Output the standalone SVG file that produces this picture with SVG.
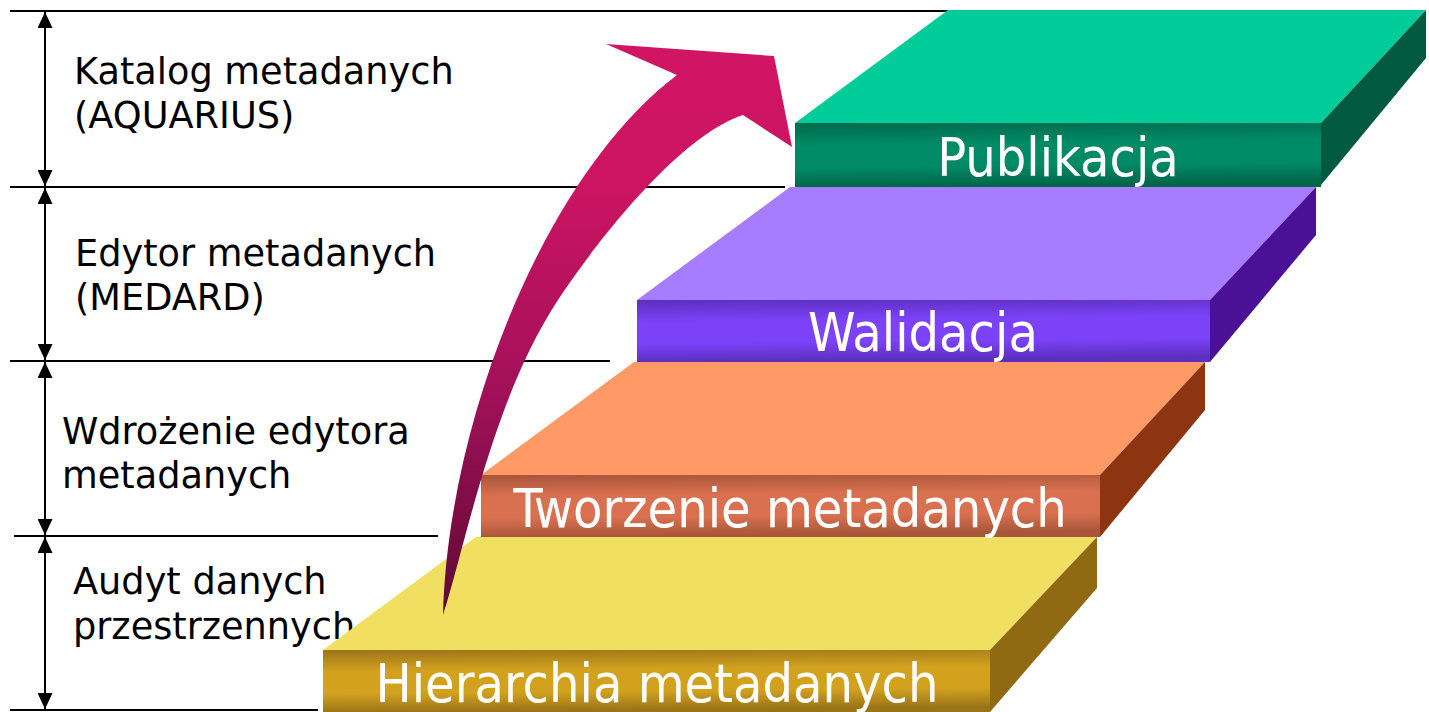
<svg xmlns="http://www.w3.org/2000/svg" width="1429" height="712" viewBox="0 0 1429 712">
<style>
.lbl{font-family:"DejaVu Sans","Liberation Sans",sans-serif;font-size:36.7px;fill:#000}
.slab{font-family:"DejaVu Sans Condensed","DejaVu Sans","Liberation Sans",sans-serif;font-size:53.5px;fill:#fff;text-anchor:middle}
.hl{stroke:#000;stroke-width:2;fill:none}
.dim{stroke:#000;stroke-width:2;fill:none;marker-start:url(#ah);marker-end:url(#ah)}
</style>
<defs>
<marker id="ah" viewBox="0 0 16 15" refX="16" refY="7.5" markerWidth="16" markerHeight="15" markerUnits="userSpaceOnUse" orient="auto-start-reverse"><path d="M0,0 L16,7.5 L0,15 z" fill="#000"/></marker>
<linearGradient id="gG" x1="0" y1="0" x2="0.1" y2="1"><stop offset="0" stop-color="#006a4c"/><stop offset="0.35" stop-color="#008a66"/><stop offset="0.7" stop-color="#008a66"/><stop offset="1" stop-color="#00664a"/></linearGradient>
<linearGradient id="gP" x1="0" y1="0" x2="0.1" y2="1"><stop offset="0" stop-color="#5c2fbf"/><stop offset="0.35" stop-color="#7b42f8"/><stop offset="0.7" stop-color="#7b42f8"/><stop offset="1" stop-color="#5c2fbf"/></linearGradient>
<linearGradient id="gO" x1="0" y1="0" x2="0.1" y2="1"><stop offset="0" stop-color="#a8553a"/><stop offset="0.35" stop-color="#d97050"/><stop offset="0.7" stop-color="#d97050"/><stop offset="1" stop-color="#a8553a"/></linearGradient>
<linearGradient id="gY" x1="0" y1="0" x2="0.1" y2="1"><stop offset="0" stop-color="#9c7418"/><stop offset="0.35" stop-color="#d2a21e"/><stop offset="0.7" stop-color="#d2a21e"/><stop offset="1" stop-color="#9c7418"/></linearGradient>
<linearGradient id="gA" gradientUnits="userSpaceOnUse" x1="0" y1="615" x2="0" y2="44"><stop offset="0" stop-color="#5e0a33"/><stop offset="0.4" stop-color="#a3105a"/><stop offset="0.75" stop-color="#cc1462"/><stop offset="1" stop-color="#d01563"/></linearGradient>
</defs>

<g id="guides">
<line class="hl" x1="10" y1="11" x2="960" y2="11"/>
<line class="hl" x1="10" y1="187" x2="785" y2="187"/>
<line class="hl" x1="10" y1="361" x2="610" y2="361"/>
<line class="hl" x1="14" y1="536" x2="438" y2="536"/>
<line class="hl" x1="10" y1="710" x2="318" y2="710"/>
<line class="dim" x1="45" y1="12" x2="45" y2="186"/>
<line class="dim" x1="45" y1="188" x2="45" y2="360"/>
<line class="dim" x1="45" y1="362" x2="45" y2="535"/>
<line class="dim" x1="45" y1="537" x2="45" y2="709"/>
</g>

<g id="label-katalog"><text class="lbl" x="74" y="84">Katalog metadanych</text><text class="lbl" x="74" y="128">(AQUARIUS)</text></g>
<g id="label-edytor"><text class="lbl" x="75" y="266">Edytor metadanych</text><text class="lbl" x="75" y="310">(MEDARD)</text></g>
<g id="label-wdrozenie"><text class="lbl" x="62" y="444">Wdrożenie edytora</text><text class="lbl" x="62" y="488">metadanych</text></g>
<g id="label-audyt"><text class="lbl" x="73" y="594">Audyt danych</text><text class="lbl" x="73" y="639">przestrzennych</text></g>

<g id="step-hierarchia">
<polygon points="323,650 990,650 1097,537 476,537" fill="#f0df60"/>
<polygon points="990,650 1097,537 1097,588 990,712" fill="#8f6a12"/>
<rect x="323" y="650" width="667" height="62" fill="url(#gY)"/>
<text class="slab" x="657" y="702">Hierarchia metadanych</text>
</g>
<g id="step-tworzenie">
<polygon points="481,475 1100,475 1205,362 634,362" fill="#ff9966"/>
<polygon points="1100,475 1205,362 1205,410 1100,537" fill="#8c3510"/>
<rect x="481" y="475" width="619" height="62" fill="url(#gO)"/>
<text class="slab" x="790" y="527">Tworzenie metadanych</text>
</g>
<g id="step-walidacja">
<polygon points="637,300 1210,300 1316,187 790,187" fill="#a67dff"/>
<polygon points="1210,300 1316,187 1316,235 1210,362" fill="#4a1096"/>
<rect x="637" y="300" width="573" height="62" fill="url(#gP)"/>
<text class="slab" x="923" y="351">Walidacja</text>
</g>
<g id="step-publikacja">
<polygon points="795,123 1321,123 1426,10 948,10" fill="#00cc99"/>
<polygon points="1321,123 1426,10 1426,58 1321,185" fill="#005a40"/>
<rect x="795" y="123" width="526" height="64" fill="url(#gG)"/>
<text class="slab" x="1058" y="176">Publikacja</text>
</g>

<g id="connectors">
<path d="M443,615 C448,420 545,175 677,75 L606,44 L774,56 L792,147 L743,115 C676,137 591,250 558,300 C492,400 465,548 443,615 Z" fill="url(#gA)"/>
</g>
</svg>
